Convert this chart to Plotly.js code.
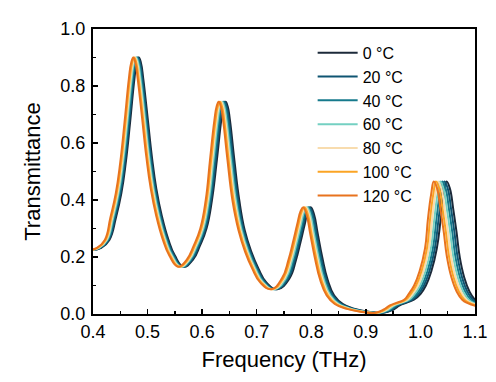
<!DOCTYPE html>
<html>
<head>
<meta charset="utf-8">
<script src="https://cdn.plot.ly/plotly-3.0.1.min.js"></script>
<style>html,body{margin:0;padding:0;background:#fff;}#chart{width:496px;height:382px;}</style>
</head>
<body>
<div id="chart"></div>
<script>
// Transmittance values (shared shape)
const transmittance = [0.225, 0.232, 0.260, 0.338, 0.424, 0.530, 0.673, 0.827, 0.880, 0.900, 0.880, 0.827, 0.690, 0.550, 0.440, 0.345, 0.262, 0.205, 0.166,
  0.190, 0.240, 0.300, 0.400, 0.541, 0.679, 0.727, 0.745, 0.727, 0.679, 0.541, 0.400, 0.294, 0.219, 0.160, 0.110, 0.087,
  0.125, 0.190, 0.250, 0.315, 0.360, 0.375, 0.350, 0.280, 0.200, 0.120, 0.065, 0.035, 0.018, 0.008, 0.004,
  0.015, 0.030, 0.040, 0.050, 0.070, 0.100, 0.150, 0.230, 0.330, 0.420, 0.465, 0.440, 0.370, 0.290, 0.200, 0.130, 0.078, 0.050, 0.038, 0.028];

// Frequencies (THz) for each temperature
const freq0 = [0.400, 0.415, 0.430, 0.442, 0.452, 0.460, 0.468, 0.476, 0.480, 0.484, 0.488, 0.492, 0.500, 0.508, 0.516, 0.526, 0.538, 0.550, 0.566,
  0.583, 0.596, 0.608, 0.618, 0.627, 0.635, 0.639, 0.643, 0.647, 0.651, 0.659, 0.668, 0.678, 0.690, 0.703, 0.718, 0.738,
  0.760, 0.772, 0.780, 0.788, 0.794, 0.799, 0.805, 0.812, 0.820, 0.830, 0.842, 0.858, 0.880, 0.905, 0.932,
  0.950, 0.962, 0.975, 0.988, 1.000, 1.010, 1.020, 1.030, 1.037, 1.043, 1.048, 1.054, 1.060, 1.066, 1.072, 1.080, 1.090, 1.100, 1.110, 1.125];
const freq20 = [0.3988, 0.4137, 0.4286, 0.4403, 0.4503, 0.4583, 0.4663, 0.4743, 0.4783, 0.4823, 0.4863, 0.4903, 0.4983, 0.5063, 0.5143, 0.5243, 0.5363, 0.5483, 0.5643,
  0.5811, 0.5941, 0.6061, 0.6161, 0.6249, 0.6329, 0.6369, 0.6409, 0.6449, 0.6489, 0.6569, 0.6659, 0.6761, 0.6881, 0.7011, 0.7161, 0.7361,
  0.7577, 0.7697, 0.7777, 0.7857, 0.7917, 0.7967, 0.8027, 0.8097, 0.8177, 0.8277, 0.8397, 0.8555, 0.8775, 0.9025, 0.9295,
  0.9470, 0.9590, 0.9720, 0.9850, 0.9964, 1.0064, 1.0164, 1.0264, 1.0331, 1.0391, 1.0441, 1.0501, 1.0561, 1.0621, 1.0681, 1.0761, 1.0861, 1.0961, 1.1061, 1.1211];
const freq40 = [0.3976, 0.4124, 0.4272, 0.4386, 0.4486, 0.4566, 0.4646, 0.4726, 0.4766, 0.4806, 0.4846, 0.4886, 0.4966, 0.5046, 0.5126, 0.5226, 0.5346, 0.5466, 0.5626,
  0.5792, 0.5922, 0.6042, 0.6142, 0.6228, 0.6308, 0.6348, 0.6388, 0.6428, 0.6468, 0.6548, 0.6638, 0.6742, 0.6862, 0.6992, 0.7142, 0.7342,
  0.7554, 0.7674, 0.7754, 0.7834, 0.7894, 0.7944, 0.8004, 0.8074, 0.8154, 0.8254, 0.8374, 0.8530, 0.8750, 0.9000, 0.9270,
  0.9440, 0.9560, 0.9690, 0.9820, 0.9928, 1.0028, 1.0128, 1.0228, 1.0292, 1.0352, 1.0402, 1.0462, 1.0522, 1.0582, 1.0642, 1.0722, 1.0822, 1.0922, 1.1022, 1.1172];
const freq60 = [0.3964, 0.4111, 0.4258, 0.4369, 0.4469, 0.4549, 0.4629, 0.4709, 0.4749, 0.4789, 0.4829, 0.4869, 0.4949, 0.5029, 0.5109, 0.5209, 0.5329, 0.5449, 0.5609,
  0.5773, 0.5903, 0.6023, 0.6123, 0.6207, 0.6287, 0.6327, 0.6367, 0.6407, 0.6447, 0.6527, 0.6617, 0.6723, 0.6843, 0.6973, 0.7123, 0.7323,
  0.7531, 0.7651, 0.7731, 0.7811, 0.7871, 0.7921, 0.7981, 0.8051, 0.8131, 0.8231, 0.8351, 0.8505, 0.8725, 0.8975, 0.9245,
  0.9410, 0.9530, 0.9660, 0.9790, 0.9892, 0.9992, 1.0092, 1.0192, 1.0253, 1.0313, 1.0363, 1.0423, 1.0483, 1.0543, 1.0603, 1.0683, 1.0783, 1.0883, 1.0983, 1.1133];
const freq80 = [0.3952, 0.4098, 0.4244, 0.4352, 0.4452, 0.4532, 0.4612, 0.4692, 0.4732, 0.4772, 0.4812, 0.4852, 0.4932, 0.5012, 0.5092, 0.5192, 0.5312, 0.5432, 0.5592,
  0.5754, 0.5884, 0.6004, 0.6104, 0.6186, 0.6266, 0.6306, 0.6346, 0.6386, 0.6426, 0.6506, 0.6596, 0.6704, 0.6824, 0.6954, 0.7104, 0.7304,
  0.7508, 0.7628, 0.7708, 0.7788, 0.7848, 0.7898, 0.7958, 0.8028, 0.8108, 0.8208, 0.8328, 0.8480, 0.8700, 0.8950, 0.9220,
  0.9380, 0.9500, 0.9630, 0.9760, 0.9856, 0.9956, 1.0056, 1.0156, 1.0214, 1.0274, 1.0324, 1.0384, 1.0444, 1.0504, 1.0564, 1.0644, 1.0744, 1.0844, 1.0944, 1.1094];
const freq100 = [0.3940, 0.4085, 0.4230, 0.4335, 0.4435, 0.4515, 0.4595, 0.4675, 0.4715, 0.4755, 0.4795, 0.4835, 0.4915, 0.4995, 0.5075, 0.5175, 0.5295, 0.5415, 0.5575,
  0.5735, 0.5865, 0.5985, 0.6085, 0.6165, 0.6245, 0.6285, 0.6325, 0.6365, 0.6405, 0.6485, 0.6575, 0.6685, 0.6805, 0.6935, 0.7085, 0.7285,
  0.7485, 0.7605, 0.7685, 0.7765, 0.7825, 0.7875, 0.7935, 0.8005, 0.8085, 0.8185, 0.8305, 0.8455, 0.8675, 0.8925, 0.9195,
  0.9350, 0.9470, 0.9600, 0.9730, 0.9820, 0.9920, 1.0020, 1.0120, 1.0175, 1.0235, 1.0285, 1.0345, 1.0405, 1.0465, 1.0525, 1.0605, 1.0705, 1.0805, 1.0905, 1.1055];
const freq120 = [0.3928, 0.4072, 0.4216, 0.4318, 0.4418, 0.4498, 0.4578, 0.4658, 0.4698, 0.4738, 0.4778, 0.4818, 0.4898, 0.4978, 0.5058, 0.5158, 0.5278, 0.5398, 0.5558,
  0.5716, 0.5846, 0.5966, 0.6066, 0.6144, 0.6224, 0.6264, 0.6304, 0.6344, 0.6384, 0.6464, 0.6554, 0.6666, 0.6786, 0.6916, 0.7066, 0.7266,
  0.7462, 0.7582, 0.7662, 0.7742, 0.7802, 0.7852, 0.7912, 0.7982, 0.8062, 0.8162, 0.8282, 0.8430, 0.8650, 0.8900, 0.9170,
  0.9320, 0.9440, 0.9570, 0.9700, 0.9784, 0.9884, 0.9984, 1.0084, 1.0136, 1.0196, 1.0246, 1.0306, 1.0366, 1.0426, 1.0486, 1.0566, 1.0666, 1.0766, 1.0866, 1.1016];

const seriesNames = ['0 °C', '20 °C', '40 °C', '60 °C', '80 °C', '100 °C', '120 °C'];
const seriesFreqs = [freq0, freq20, freq40, freq60, freq80, freq100, freq120];
const seriesColors = ['#1c2a3a', '#0f5572', '#167a8c', '#74d0c2', '#f8dcae', '#fba424', '#e8731e'];

const traces = seriesNames.map((name, i) => ({
  x: seriesFreqs[i],
  y: transmittance,
  name: name,
  type: 'scatter',
  mode: 'lines',
  line: {color: seriesColors[i], width: 2, shape: 'spline', smoothing: 1.3}
}));

const fontFamily = 'Liberation Sans, Arial, sans-serif';
const layout = {
  width: 496, height: 382,
  margin: {l: 93, r: 21, t: 29, b: 68},
  paper_bgcolor: '#fff', plot_bgcolor: '#fff',
  font: {family: fontFamily, color: '#000', size: 18},
  showlegend: true,
  legend: {x: 0.575, y: 0.976, xanchor: 'left', yanchor: 'top', bgcolor: 'rgba(0,0,0,0)',
           font: {family: fontFamily, size: 16, color: '#000'}, tracegroupgap: 0, itemwidth: 40},
  xaxis: {
    range: [0.4, 1.1], dtick: 0.1, tick0: 0.4, tickformat: '.1f',
    ticks: 'inside', ticklen: 5, tickwidth: 1.5, tickcolor: '#000',
    showline: true, linewidth: 2, linecolor: '#000', mirror: true,
    showgrid: false, zeroline: false,
    minor: {ticks: 'inside', ticklen: 3, dtick: 0.05, tickcolor: '#000', showgrid: false},
    tickfont: {size: 18, family: fontFamily},
    title: {text: 'Frequency (THz)', font: {size: 22, family: fontFamily}, standoff: 11}
  },
  yaxis: {
    range: [0, 1.0], dtick: 0.2, tick0: 0, tickformat: '.1f',
    ticks: 'inside', ticklen: 5, tickwidth: 1.5, tickcolor: '#000',
    showline: true, linewidth: 2, linecolor: '#000', mirror: true,
    showgrid: false, zeroline: false,
    minor: {ticks: 'inside', ticklen: 3, dtick: 0.1, tickcolor: '#000', showgrid: false},
    tickfont: {size: 18, family: fontFamily},
    ticklabelstandoff: 2,
    title: {text: 'Transmittance', font: {size: 22, family: fontFamily}, standoff: 14}
  }
};

Plotly.newPlot('chart', traces, layout, {staticPlot: true, displayModeBar: false});
</script>
</body>
</html>
